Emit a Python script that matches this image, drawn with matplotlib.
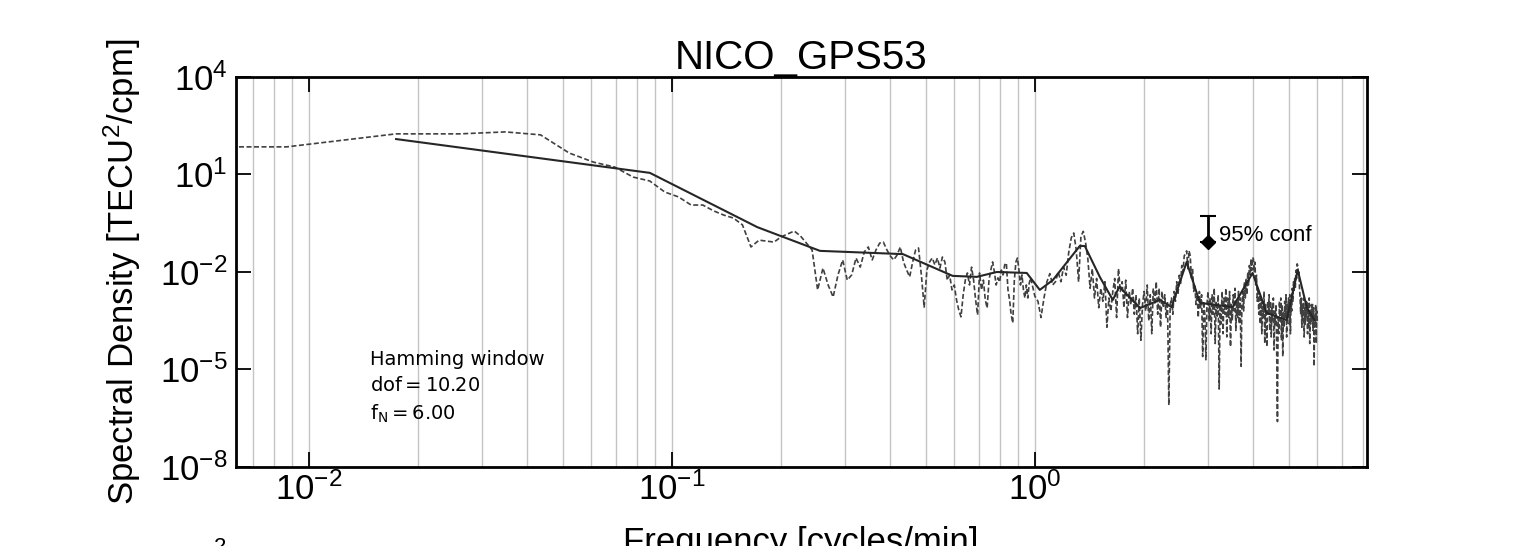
import numpy as np
import matplotlib
matplotlib.use('Agg')
import matplotlib.pyplot as plt
from matplotlib.ticker import FixedLocator, FuncFormatter, NullLocator

station = 'NICO_GPS53'
df = 1.0 / 115          # frequency step of the periodogram [cycles/min]
f_nyq = 6.0
dof = 10.20

# raw periodogram below 1 cpm, log10 of PSD, one value per df step (first = DC)
psd_lo_log = [
    1.85, 1.85, 2.25, 2.25, 2.31, 2.22, 1.66, 1.38, 1.23, 0.92,
    0.80, 0.46, 0.31, 0.06, 0.06, -0.12, -0.25, -0.34, -0.55, -1.23,
    -1.02, -1.05, -1.08, -0.92, -0.83, -0.74, -0.89, -1.11, -1.32, -2.55,
    -1.88, -2.40, -2.77, -2.09, -1.63, -2.25, -2.09, -1.57, -1.85, -1.38,
    -1.23, -1.63, -1.32, -1.11, -1.08, -1.32, -1.51, -1.63, -1.48, -1.23,
    -1.69, -1.94, -2.15, -1.69, -1.32, -1.26, -2.09, -3.08, -1.94, -1.69,
    -1.57, -1.78, -1.57, -1.88, -1.54, -1.69, -2.25, -2.09, -2.55, -2.40,
    -2.86, -3.17, -3.38, -2.71, -2.25, -2.03, -2.40, -1.85, -2.25, -2.86,
    -3.32, -2.03, -2.55, -2.25, -2.86, -3.11, -2.25, -1.94, -1.69, -2.00,
    -2.40, -2.18, -2.31, -1.94, -2.09, -1.78, -1.72, -2.55, -2.86, -3.32,
    -3.57, -2.25, -1.69, -1.57, -1.94, -2.40, -2.09, -2.55, -2.80, -2.40,
    -2.80, -2.34, -2.18, -2.37, -2.55,
]

# raw periodogram 1..6 cpm, log10 of PSD, read every 0.02 cpm
psd_hi_log = [
    -2.74, -2.90, -3.40, -2.80, -2.30, -2.05, -2.40, -2.30, -2.00, -2.30,
    -1.85, -2.10, -1.40, -0.95, -0.80, -1.30, -2.30, -0.90, -0.75, -1.10,
    -1.60, -2.50, -1.90, -2.80, -2.20, -3.10, -2.50, -2.90, -2.30, -3.70,
    -2.80, -3.20, -2.60, -2.20, -3.40, -1.90, -2.60, -2.30, -3.10, -2.25,
    -3.40, -2.60, -3.00, -2.50, -3.30, -2.70, -3.90, -2.80, -4.10, -3.00,
    -2.60, -3.20, -2.40, -3.50, -2.70, -3.90, -2.50, -3.00, -2.30, -3.30,
    -2.50, -3.70, -2.60, -3.10, -2.70, -3.40, -2.90, -6.10, -3.00, -2.80,
    -3.30, -2.60, -2.90, -2.30, -2.70, -2.10, -2.40, -1.80, -2.00, -1.50,
    -1.45, -1.35, -1.90, -1.35, -1.50, -2.20, -1.90, -2.60, -2.40, -3.00,
    -2.70, -3.40, -2.60, -3.10, -2.70, -4.60, -2.90, -3.30, -4.70, -3.00,
    -2.60, -3.50, -2.80, -3.90, -2.70, -3.30, -2.50, -4.20, -2.90, -3.40,
    -2.70, -5.60, -3.00, -3.60, -2.60, -3.90, -2.80, -3.30, -2.50, -4.00,
    -2.80, -3.40, -2.60, -4.30, -3.00, -3.50, -2.70, -3.20, -2.50, -3.80,
    -2.90, -3.40, -2.60, -3.60, -2.80, -4.90, -3.00, -2.60, -3.20, -2.30,
    -2.80, -2.20, -2.70, -2.00, -2.40, -1.80, -2.10, -1.60, -1.95, -1.55,
    -1.60, -2.00, -1.70, -2.40, -2.10, -2.90, -2.50, -3.30, -2.70, -3.60,
    -2.80, -3.90, -2.90, -3.40, -2.60, -4.20, -3.00, -3.60, -4.30, -2.90,
    -3.30, -2.70, -3.80, -2.90, -4.00, -3.10, -3.50, -2.80, -4.40, -3.20,
    -3.60, -3.00, -4.60, -6.60, -3.40, -3.90, -2.90, -3.50, -2.80, -4.10,
    -3.00, -4.60, -3.20, -3.70, -2.90, -3.40, -2.70, -4.00, -3.00, -3.30,
    -2.80, -3.60, -2.70, -3.90, -2.90, -3.20, -2.50, -2.90, -2.30, -2.60,
    -2.20, -2.50, -1.95, -2.20, -1.75, -1.80, -2.10, -2.00, -2.50, -2.80,
    -3.30, -2.80, -3.70, -3.00, -3.50, -2.80, -4.00, -3.10, -3.60, -2.90,
    -3.40, -2.90, -3.90, -3.20, -3.70, -2.80, -4.20, -3.30, -3.60, -3.00,
    -3.50, -3.00, -3.80, -3.10, -4.90, -3.30, -3.60, -3.00, -4.20, -3.20, -3.50,
]

# smoothed spectrum (solid line)
smooth_freq = [0.0174, 0.087, 0.172, 0.256, 0.433, 0.594, 0.692, 0.786, 0.95, 1.032,
               1.121, 1.33, 1.373, 1.51, 1.64, 1.71, 1.95, 2.21, 2.38, 2.62,
               2.85, 3.51, 3.98, 4.35, 4.94, 5.3, 5.61, 5.89]
smooth_log = [2.09, 1.05, -0.62, -1.35, -1.45, -2.12, -2.15, -2.00, -2.03, -2.55,
              -2.25, -1.20, -1.20, -2.15, -2.86, -2.46, -3.11, -2.86, -3.08, -1.69,
              -2.95, -3.08, -2.03, -3.26, -3.48, -1.94, -3.08, -3.48]

# 95% confidence bar
conf_freq = 3.0
conf_log = -1.07
conf_top_log = -0.28

xticks = [1e-2, 1e-1, 1e0]
yticks = [1e-8, 1e-5, 1e-2, 1e1, 1e4]

plt.rcParams['font.family'] = ['Liberation Sans', 'DejaVu Sans']
plt.rcParams['mathtext.fontset'] = 'custom'
plt.rcParams['mathtext.rm'] = 'Liberation Sans'
plt.rcParams['mathtext.it'] = 'Liberation Sans:italic'
plt.rcParams['mathtext.bf'] = 'Liberation Sans:bold'

freq = np.concatenate([np.arange(len(psd_lo_log)) * df,
                       np.linspace(1.0, f_nyq, len(psd_hi_log))])
psd = 10.0 ** np.array(psd_lo_log + psd_hi_log)

fig = plt.figure(figsize=(15.32, 5.46), dpi=100)
ax = fig.add_axes([0.154, 0.1447, 0.738, 0.7143])
ax.set_xscale('log', nonpositive='clip')
ax.set_yscale('log')

ax.plot(freq, psd, color='0.25', lw=1.2, dashes=(3, 1.5), zorder=2)
ax.plot(smooth_freq, 10.0 ** np.array(smooth_log), color='0.15', lw=1.5, zorder=3)

cval = 10.0 ** conf_log
ax.errorbar([conf_freq], [cval], yerr=[[0], [10.0 ** conf_top_log - cval]],
            fmt='D', color='k', ms=7, capsize=6, elinewidth=2, capthick=1.5, zorder=4)
ax.text(conf_freq * 1.075, 10.0 ** (conf_log + 0.2), '95% conf', fontsize=16,
        ha='left', va='center')

ax.text(0.119, 0.30,
        'Hamming window\n$\\mathrm{dof} = %.2f$\n$\\mathrm{f_N} = %.2f$' % (dof, f_nyq),
        transform=ax.transAxes, ha='left', va='top', fontsize=14,
        family='DejaVu Sans', math_fontfamily='dejavusans', linespacing=1.45)

ax.set_xlim(0.0063, 8.2)
ax.set_ylim(1e-8, 1e4)

ax.xaxis.set_major_locator(FixedLocator(xticks))
ax.yaxis.set_major_locator(FixedLocator(yticks))
ax.yaxis.set_minor_locator(NullLocator())
fmt = FuncFormatter(lambda v, p: '$\\mathrm{10^{%d}}$' % round(np.log10(v)))
ax.xaxis.set_major_formatter(fmt)
ax.yaxis.set_major_formatter(fmt)

ax.tick_params(which='major', direction='in', length=11, width=1.3,
               top=True, right=True, labelsize=25)
ax.tick_params(axis='x', which='major', pad=4)
ax.tick_params(axis='y', which='major', pad=6)
ax.tick_params(which='minor', length=0, top=True, right=True)

ax.set_axisbelow(True)
ax.grid(True, which='both', axis='x', color='#c4c4c4', lw=1.0)
for s in ax.spines.values():
    s.set_linewidth(2.0)

ax.set_title(station, fontsize=29)
ax.set_xlabel('Frequency [cycles/min]', fontsize=25)
ax.set_ylabel('Spectral Density [TECU$^2$/cpm]', fontsize=25)
ax.xaxis.set_label_coords(0.5, -0.151)
ax.yaxis.set_label_coords(-0.0822, 0.5)

fig.text(0.1436, 0.0165, '2', fontsize=16, ha='center', va='top')

fig.savefig('out.png', dpi=100)
